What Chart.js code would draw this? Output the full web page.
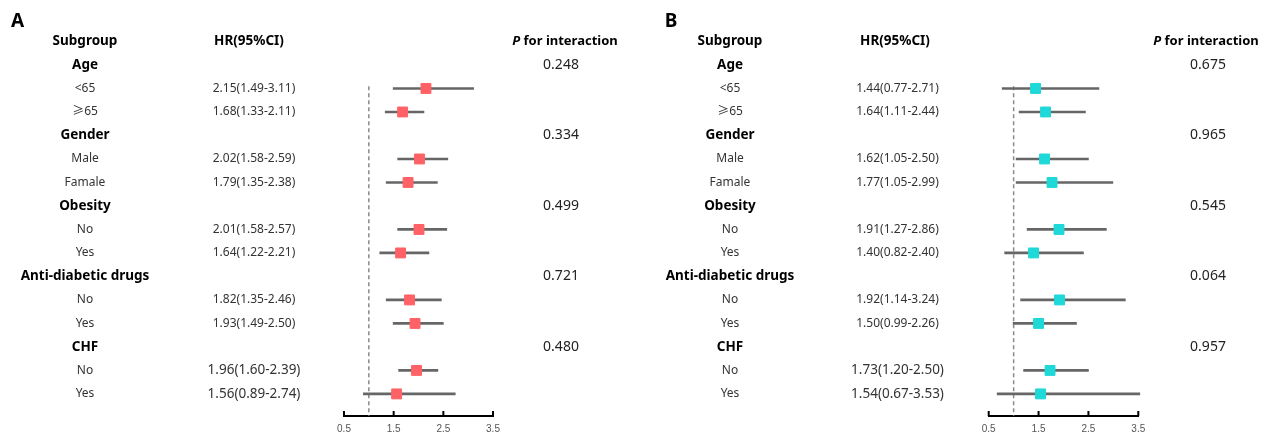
<!DOCTYPE html>
<html>
<head>
<meta charset="utf-8">
<script src="https://cdn.jsdelivr.net/npm/chart.js@4.4.0/dist/chart.umd.min.js"></script>
<style>
  html, body { margin:0; padding:0; background:#fff; }
  #wrap { position:relative; width:1263px; height:434px; }
  .panel { position:absolute; top:0; height:434px; }
  #panelA { left:0; width:632px; }
  #panelB { left:632px; width:631px; }
</style>
</head>
<body>
<div id="wrap">
  <div class="panel" id="panelA"><canvas id="chartA"></canvas></div>
  <div class="panel" id="panelB"><canvas id="chartB"></canvas></div>
</div>
<script>
// rows of the table
const groups = ["Age", "Gender", "Obesity", "Anti-diabetic drugs", "CHF"];
const subgroups = ["<65", "≥65", "Male", "Famale", "No", "Yes", "No", "Yes", "No", "Yes"];
const tickValues = [0.5, 1.5, 2.5, 3.5];

// panel A
const hrA   = [2.15, 1.68, 2.02, 1.79, 2.01, 1.64, 1.82, 1.93, 1.96, 1.56];
const lowA  = [1.49, 1.33, 1.58, 1.35, 1.58, 1.22, 1.35, 1.49, 1.60, 0.89];
const highA = [3.11, 2.11, 2.59, 2.38, 2.57, 2.21, 2.46, 2.50, 2.39, 2.74];
const pA    = ["0.248", "0.334", "0.499", "0.721", "0.480"];

// panel B
const hrB   = [1.44, 1.64, 1.62, 1.77, 1.91, 1.40, 1.92, 1.50, 1.73, 1.54];
const lowB  = [0.77, 1.11, 1.05, 1.05, 1.27, 0.82, 1.14, 0.99, 1.20, 0.67];
const highB = [2.71, 2.44, 2.50, 2.99, 2.86, 2.40, 3.24, 2.26, 2.50, 3.53];
const pB    = ["0.675", "0.965", "0.545", "0.064", "0.957"];

const FONT = "'Noto Sans', 'Noto Sans CJK SC', sans-serif";
const Y_MIN = -2, Y_MAX = 14.94;

function groupRow(g) { return g * 3; }
function subRow(k) { return Math.floor(k / 2) * 3 + (k % 2) + 1; }

const forestTable = {
  id: 'forestTable',
  afterDraw(chart, args, o) {
    const ctx = chart.ctx;
    const y = chart.scales.y, x = chart.scales.x;
    const py = r => y.getPixelForValue(r);
    ctx.save();
    ctx.textBaseline = 'middle';
    ctx.textAlign = 'center';

    // upward tick marks on the axis
    ctx.strokeStyle = '#000';
    ctx.lineWidth = 2;
    tickValues.forEach(v => {
      const px = x.getPixelForValue(v);
      ctx.beginPath();
      ctx.moveTo(px, chart.chartArea.bottom);
      ctx.lineTo(px, chart.chartArea.bottom - 5);
      ctx.stroke();
    });

    // panel letter
    ctx.fillStyle = '#000';
    ctx.font = "bold 19px " + FONT;
    ctx.fillText(o.letter, o.letterX, py(-1.83));

    // headers
    ctx.font = "bold 13.5px " + FONT;
    ctx.fillText("Subgroup", o.subX, py(-1));
    ctx.fillText("HR(95%CI)", o.hrHeadX, py(-1));
    ctx.font = "italic bold 13px " + FONT;
    const wP = ctx.measureText("P").width;
    ctx.font = "bold 13px " + FONT;
    const wRest = ctx.measureText(" for interaction").width;
    const start = o.pX - (wP + wRest) / 2;
    ctx.textAlign = 'left';
    ctx.font = "italic bold 13px " + FONT;
    ctx.fillText("P", start, py(-1));
    ctx.font = "bold 13px " + FONT;
    ctx.fillText(" for interaction", start + wP, py(-1));
    ctx.textAlign = 'center';

    // group names and p values
    groups.forEach((g, i) => {
      ctx.fillStyle = '#000';
      ctx.font = "bold 13.5px " + FONT;
      ctx.fillText(g, o.subX, py(groupRow(i)));
      ctx.fillStyle = '#222';
      ctx.font = "14px " + FONT;
      ctx.fillText(o.pValues[i], o.pValX, py(groupRow(i)));
    });

    // subgroup labels and HR text
    subgroups.forEach((s, k) => {
      ctx.fillStyle = '#333';
      ctx.font = "12px " + FONT;
      ctx.fillText(s, o.subX, py(subRow(k)));
      const big = k >= 8;
      ctx.font = (big ? "13.5px " : "12px ") + FONT;
      const txt = o.hr[k].toFixed(2) + "(" + o.low[k].toFixed(2) + "-" + o.high[k].toFixed(2) + ")";
      ctx.fillText(txt, o.hrX, py(subRow(k)));
    });
    ctx.restore();
  }
};

function makeChart(id, hr, low, high, pValues, color, lay) {
  const ciData = hr.map((v, k) => ({ x: [low[k], high[k]], y: subRow(k) }));
  const ptData = hr.map((v, k) => ({ x: v, y: subRow(k) }));
  return new Chart(document.getElementById(id), {
    type: 'scatter',
    data: {
      datasets: [
        { type: 'scatter', data: ptData, pointStyle: 'rect', pointRadius: 7,
          backgroundColor: color, borderColor: color, borderWidth: 1, order: 0, clip: false },
        { type: 'bar', indexAxis: 'y', data: ciData, backgroundColor: '#666666',
          barThickness: 2, order: 1, clip: false },
        { type: 'line', data: [{ x: 1, y: 0.9 }, { x: 1, y: Y_MAX }], borderColor: '#8a8a8a',
          borderWidth: 1.5, borderDash: [4, 3], pointRadius: 0, order: 2 }
      ]
    },
    options: {
      responsive: true,
      maintainAspectRatio: false,
      animation: false,
      events: [],
      layout: { padding: { left: lay.left, right: lay.right, top: 18, bottom: 0 } },
      plugins: {
        legend: { display: false },
        tooltip: { enabled: false },
        forestTable: Object.assign({ hr, low, high, pValues }, lay)
      },
      scales: {
        x: {
          type: 'linear', min: 0.5, max: 3.5, offset: false,
          afterBuildTicks: s => { s.ticks = tickValues.map(v => ({ value: v })); },
          afterFit: s => { s.height = 18; },
          grid: { display: false, drawTicks: false },
          border: { display: true, color: '#000', width: 2 },
          ticks: { padding: 7, color: '#555', font: { family: "'Liberation Sans', sans-serif", size: 10 },
                   callback: v => Number(v).toFixed(1) }
        },
        y: { type: 'linear', min: Y_MIN, max: Y_MAX, reverse: true, display: false, offset: false }
      }
    },
    plugins: [forestTable]
  });
}

makeChart('chartA', hrA, lowA, highA, pA, '#ff6266', {
  letter: 'A', letterX: 17.5, subX: 85, hrHeadX: 249, hrX: 254, pX: 565, pValX: 561,
  left: 344, right: 139
});
makeChart('chartB', hrB, lowB, highB, pB, '#1fd8d8', {
  letter: 'B', letterX: 39, subX: 98, hrHeadX: 263, hrX: 265.5, pX: 574, pValX: 576,
  left: 356.7, right: 124.7
});
</script>
</body>
</html>
